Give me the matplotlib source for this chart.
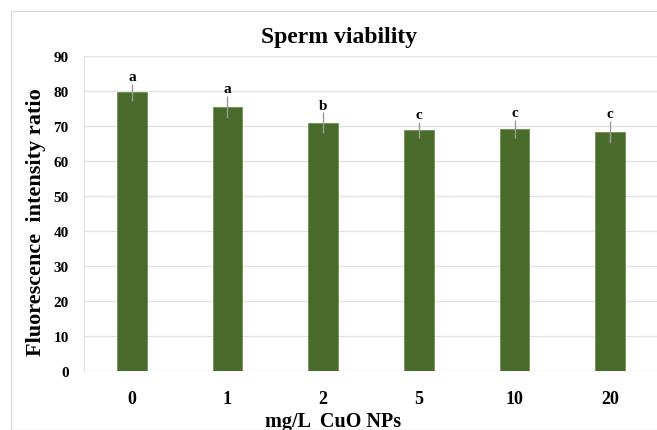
import numpy as np
import matplotlib.pyplot as plt
from matplotlib.patches import Rectangle

doses = ['0', '1', '2', '5', '10', '20']
viability = [79.6, 75.5, 70.9, 68.9, 69.2, 68.3]
errors = [2.5, 3.2, 3.0, 2.2, 2.6, 3.1]
letters = ['a', 'a', 'b', 'c', 'c', 'c']

plt.rcParams['font.family'] = ['Liberation Serif', 'DejaVu Serif']

fig = plt.figure(figsize=(6.57, 4.31), dpi=100)
fig.patches.append(Rectangle((11 / 657, 0), 1, 1 - 12 / 431, transform=fig.transFigure,
                             fill=False, edgecolor='#d9d9d9', linewidth=1.0))

ax = fig.add_axes([84 / 657, 59 / 431, 574 / 657, 315 / 431])
x = np.arange(len(doses))
ax.bar(x, viability, width=0.31, color='#4a6c2b', edgecolor='#6f8f55', linewidth=0.6, zorder=3)
ax.errorbar(x, viability, yerr=errors, fmt='none', ecolor='#9a9a9a', elinewidth=1.0,
            capsize=0, zorder=4)
for xi, v, e, lab in zip(x, viability, errors, letters):
    ax.text(xi, v + e + 0.2, lab, ha='center', va='bottom', fontsize=11, fontweight='bold')

ax.set_xlim(-0.5, 5.5)
ax.set_ylim(0, 90)
ax.set_yticks(np.arange(0, 91, 10))
ax.set_xticks(x)
ax.set_xticklabels(doses)
ax.tick_params(length=0)
ax.tick_params(axis='x', labelsize=13, pad=14)
ax.tick_params(axis='y', labelsize=11, pad=11)
for lab in ax.get_xticklabels() + ax.get_yticklabels():
    lab.set_fontweight('bold')
ax.grid(axis='y', color='#e3e3e3', linewidth=1.0, zorder=0)
for s in ['top', 'right', 'bottom']:
    ax.spines[s].set_visible(False)
ax.spines['left'].set_color('#e0e0e0')

ax.set_xlabel('mg/L  CuO NPs', fontsize=14.5, fontweight='bold')
ax.xaxis.set_label_coords((333 - 84) / 574, (372 - 412) / 315)
ax.set_ylabel('Fluorescence  intensity ratio', fontsize=16, fontweight='bold')
ax.yaxis.set_label_coords((46 - 84) / 574, (372 - 222) / 315)
fig.text(339 / 657, 1 - 37 / 431, 'Sperm viability', ha='center', va='center',
         fontsize=17, fontweight='bold')

fig.savefig('out.png', dpi=100)
